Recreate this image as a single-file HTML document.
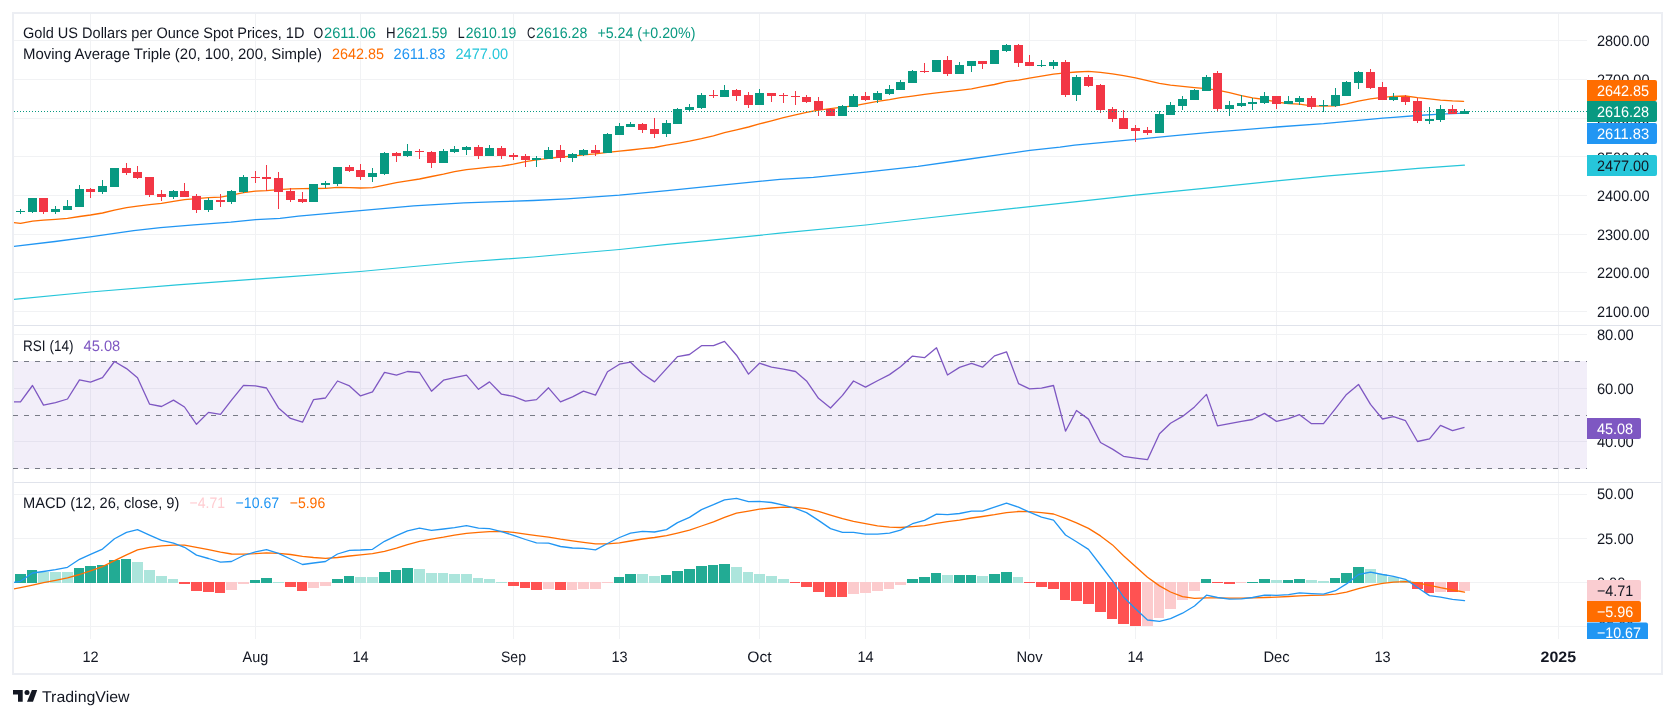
<!DOCTYPE html><html><head><meta charset="utf-8"><title>Gold chart</title><style>html,body{margin:0;padding:0;background:#fff;}body{width:1675px;height:718px;overflow:hidden;font-family:"Liberation Sans",sans-serif;}</style></head><body><svg width="1675" height="718" viewBox="0 0 1675 718" style="display:block;will-change:transform">
<defs><clipPath id="cpM"><rect x="14" y="14" width="1573" height="311"/></clipPath><clipPath id="cpR"><rect x="14" y="326" width="1573" height="156"/></clipPath><clipPath id="cpD"><rect x="14" y="483" width="1573" height="156"/></clipPath><clipPath id="cpAx"><rect x="1587" y="483" width="74" height="156"/></clipPath></defs>
<rect width="1675" height="718" fill="#fff"/>
<rect x="13" y="13" width="1649" height="661" fill="none" stroke="#ECEEF3" stroke-width="2"/>
<g fill="#F1F2F4" shape-rendering="crispEdges">
<rect x="14" y="40" width="1573" height="1"/>
<rect x="14" y="79" width="1573" height="1"/>
<rect x="14" y="118" width="1573" height="1"/>
<rect x="14" y="156" width="1573" height="1"/>
<rect x="14" y="195" width="1573" height="1"/>
<rect x="14" y="234" width="1573" height="1"/>
<rect x="14" y="272" width="1573" height="1"/>
<rect x="14" y="311" width="1573" height="1"/>
<rect x="14" y="334" width="1573" height="1"/>
<rect x="14" y="388" width="1573" height="1"/>
<rect x="14" y="441" width="1573" height="1"/>
<rect x="14" y="494" width="1573" height="1"/>
<rect x="14" y="538" width="1573" height="1"/>
<rect x="14" y="582" width="1573" height="1"/>
<rect x="14" y="626" width="1573" height="1"/>
<rect x="90" y="14" width="1" height="625"/>
<rect x="255" y="14" width="1" height="625"/>
<rect x="360" y="14" width="1" height="625"/>
<rect x="513" y="14" width="1" height="625"/>
<rect x="619" y="14" width="1" height="625"/>
<rect x="759" y="14" width="1" height="625"/>
<rect x="865" y="14" width="1" height="625"/>
<rect x="1029" y="14" width="1" height="625"/>
<rect x="1135" y="14" width="1" height="625"/>
<rect x="1276" y="14" width="1" height="625"/>
<rect x="1382" y="14" width="1" height="625"/>
<rect x="1558" y="14" width="1" height="625"/>
</g>
<g fill="#E0E3EB" shape-rendering="crispEdges"><rect x="14" y="325" width="1647" height="1"/><rect x="14" y="482" width="1647" height="1"/></g>
<g clip-path="url(#cpM)" fill="none" stroke-linejoin="round" stroke-linecap="round">
<path d="M13.3 299.5 L90.2 292.0 L177.2 284.8 L255.7 279.1 L280.0 277.3 L360.2 271.5 L413.7 266.5 L463.9 262.0 L500.0 259.4 L533.4 257.0 L566.9 254.0 L619.5 249.5 L667.2 244.4 L709.0 240.3 L759.1 235.3 L780.0 233.1 L865.7 225.0 L918.0 219.0 L1000.0 209.9 L1074.6 201.8 L1135.8 195.2 L1209.0 187.8 L1276.7 180.9 L1328.4 175.8 L1383.0 171.3 L1418.0 168.4 L1464.4 165.1" stroke="#26C6DA" stroke-width="1.2"/>
<path d="M13.3 246.5 L55.1 241.5 L90.2 236.8 L133.7 230.6 L160.5 227.6 L193.9 224.8 L230.7 222.2 L255.7 219.7 L280.0 218.3 L298.5 216.2 L360.2 210.6 L413.7 205.9 L463.9 202.9 L500.0 201.7 L533.4 200.5 L566.9 198.8 L619.5 195.1 L667.2 190.6 L709.0 186.4 L759.1 181.4 L780.0 179.4 L813.4 177.3 L865.7 172.2 L918.0 166.3 L962.7 160.0 L1000.0 154.6 L1029.9 150.4 L1060.0 147.2 L1074.6 145.2 L1135.8 139.3 L1180.0 135.2 L1210.0 132.4 L1241.5 129.9 L1276.7 127.0 L1323.5 123.7 L1358.4 120.3 L1383.0 118.2 L1393.6 117.4 L1417.5 115.5 L1440.5 114.1 L1464.4 113.2" stroke="#2196F3" stroke-width="1.3"/>
<path d="M13.8 222.7 L20.5 223.4 L32.6 221.2 L43.5 220.2 L55.5 219.4 L67.5 218.4 L79.6 216.5 L90.5 215.0 L102.5 213.0 L114.4 210.2 L126.6 207.7 L137.5 206.2 L149.5 204.6 L161.5 203.3 L173.5 201.4 L184.5 199.6 L196.4 198.7 L208.5 197.7 L220.5 197.1 L231.6 195.2 L243.5 192.7 L255.5 191.2 L266.5 190.6 L278.5 189.6 L290.5 188.9 L302.5 188.7 L313.4 188.5 L325.5 188.3 L337.5 187.4 L349.5 187.7 L360.4 188.0 L372.5 187.7 L384.5 185.2 L396.4 182.7 L407.5 180.8 L419.5 179.0 L431.6 176.5 L443.5 174.2 L454.5 171.7 L466.5 169.6 L478.5 168.3 L489.5 167.1 L501.5 166.2 L513.4 164.2 L525.5 161.7 L536.5 159.9 L548.5 158.3 L560.4 157.0 L572.5 156.2 L583.5 154.9 L595.4 153.9 L607.5 152.4 L619.5 151.2 L630.6 150.0 L642.5 148.7 L654.5 147.5 L666.5 145.2 L677.5 143.3 L689.5 141.2 L701.5 138.7 L713.4 135.8 L724.5 132.7 L736.5 129.9 L748.5 127.0 L759.4 123.9 L771.5 120.8 L783.5 117.6 L795.4 114.9 L806.5 112.4 L818.5 110.2 L830.6 108.7 L842.5 107.1 L853.5 105.8 L865.5 103.7 L877.5 101.4 L889.5 99.6 L900.5 97.7 L912.4 96.1 L924.5 94.3 L936.5 92.9 L947.5 91.7 L959.4 90.4 L971.5 88.9 L982.5 86.7 L994.4 84.5 L1006.5 81.6 L1018.5 80.1 L1029.4 78.2 L1041.5 76.1 L1053.5 74.1 L1065.5 72.8 L1076.4 72.0 L1088.5 71.3 L1100.5 72.3 L1112.4 73.9 L1123.5 75.7 L1135.5 77.9 L1147.5 80.7 L1159.4 83.3 L1170.5 85.1 L1182.5 86.4 L1194.4 87.6 L1206.5 88.6 L1217.5 90.1 L1229.4 92.6 L1241.5 95.7 L1252.5 97.9 L1264.5 99.5 L1276.4 102.0 L1288.5 103.6 L1299.5 104.1 L1311.4 105.8 L1323.5 106.2 L1335.5 105.8 L1346.5 103.9 L1358.4 101.1 L1370.5 98.9 L1382.5 97.4 L1393.6 96.3 L1405.4 96.0 L1417.5 97.6 L1429.5 98.8 L1440.5 100.1 L1452.5 100.9 L1463.6 101.3" stroke="#FF6D00" stroke-width="1.3"/>
</g>
<g shape-rendering="crispEdges">
<rect x="20" y="209" width="1" height="5" fill="#089981"/><rect x="16" y="211" width="9" height="1" fill="#089981"/>
<rect x="32" y="198" width="1" height="15" fill="#089981"/><rect x="28" y="198" width="9" height="14" fill="#089981"/>
<rect x="43" y="198" width="1" height="16" fill="#F23645"/><rect x="39" y="198" width="9" height="14" fill="#F23645"/>
<rect x="55" y="206" width="1" height="8" fill="#089981"/><rect x="51" y="209" width="9" height="3" fill="#089981"/>
<rect x="67" y="200" width="1" height="10" fill="#089981"/><rect x="63" y="206" width="9" height="4" fill="#089981"/>
<rect x="79" y="185" width="1" height="22" fill="#089981"/><rect x="75" y="189" width="9" height="18" fill="#089981"/>
<rect x="90" y="188" width="1" height="10" fill="#F23645"/><rect x="86" y="189" width="9" height="3" fill="#F23645"/>
<rect x="102" y="180" width="1" height="14" fill="#089981"/><rect x="98" y="186" width="9" height="6" fill="#089981"/>
<rect x="114" y="168" width="1" height="19" fill="#089981"/><rect x="110" y="168" width="9" height="19" fill="#089981"/>
<rect x="126" y="163" width="1" height="12" fill="#F23645"/><rect x="122" y="168" width="9" height="5" fill="#F23645"/>
<rect x="137" y="166" width="1" height="13" fill="#F23645"/><rect x="133" y="172" width="9" height="6" fill="#F23645"/>
<rect x="149" y="177" width="1" height="20" fill="#F23645"/><rect x="145" y="177" width="9" height="18" fill="#F23645"/>
<rect x="161" y="190" width="1" height="11" fill="#F23645"/><rect x="157" y="194" width="9" height="3" fill="#F23645"/>
<rect x="173" y="190" width="1" height="9" fill="#089981"/><rect x="169" y="191" width="9" height="6" fill="#089981"/>
<rect x="184" y="183" width="1" height="14" fill="#F23645"/><rect x="180" y="191" width="9" height="6" fill="#F23645"/>
<rect x="196" y="194" width="1" height="19" fill="#F23645"/><rect x="192" y="196" width="9" height="14" fill="#F23645"/>
<rect x="208" y="198" width="1" height="14" fill="#089981"/><rect x="204" y="200" width="9" height="10" fill="#089981"/>
<rect x="220" y="194" width="1" height="13" fill="#F23645"/><rect x="216" y="200" width="9" height="2" fill="#F23645"/>
<rect x="231" y="190" width="1" height="14" fill="#089981"/><rect x="227" y="191" width="9" height="11" fill="#089981"/>
<rect x="243" y="175" width="1" height="18" fill="#089981"/><rect x="239" y="177" width="9" height="15" fill="#089981"/>
<rect x="255" y="171" width="1" height="12" fill="#F23645"/><rect x="251" y="177" width="9" height="1" fill="#F23645"/>
<rect x="266" y="165" width="1" height="26" fill="#F23645"/><rect x="262" y="177" width="9" height="2" fill="#F23645"/>
<rect x="278" y="172" width="1" height="37" fill="#F23645"/><rect x="274" y="178" width="9" height="14" fill="#F23645"/>
<rect x="290" y="188" width="1" height="14" fill="#F23645"/><rect x="286" y="191" width="9" height="9" fill="#F23645"/>
<rect x="302" y="192" width="1" height="11" fill="#F23645"/><rect x="298" y="199" width="9" height="3" fill="#F23645"/>
<rect x="313" y="184" width="1" height="18" fill="#089981"/><rect x="309" y="184" width="9" height="18" fill="#089981"/>
<rect x="325" y="181" width="1" height="7" fill="#089981"/><rect x="321" y="183" width="9" height="2" fill="#089981"/>
<rect x="337" y="167" width="1" height="19" fill="#089981"/><rect x="333" y="167" width="9" height="17" fill="#089981"/>
<rect x="349" y="165" width="1" height="7" fill="#F23645"/><rect x="345" y="167" width="9" height="4" fill="#F23645"/>
<rect x="360" y="164" width="1" height="16" fill="#F23645"/><rect x="356" y="170" width="9" height="7" fill="#F23645"/>
<rect x="372" y="168" width="1" height="14" fill="#089981"/><rect x="368" y="173" width="9" height="4" fill="#089981"/>
<rect x="384" y="152" width="1" height="23" fill="#089981"/><rect x="380" y="153" width="9" height="21" fill="#089981"/>
<rect x="396" y="152" width="1" height="10" fill="#F23645"/><rect x="392" y="153" width="9" height="3" fill="#F23645"/>
<rect x="407" y="144" width="1" height="13" fill="#089981"/><rect x="403" y="151" width="9" height="5" fill="#089981"/>
<rect x="419" y="149" width="1" height="10" fill="#F23645"/><rect x="415" y="151" width="9" height="1" fill="#F23645"/>
<rect x="431" y="151" width="1" height="17" fill="#F23645"/><rect x="427" y="152" width="9" height="11" fill="#F23645"/>
<rect x="443" y="149" width="1" height="14" fill="#089981"/><rect x="439" y="151" width="9" height="12" fill="#089981"/>
<rect x="454" y="146" width="1" height="7" fill="#089981"/><rect x="450" y="149" width="9" height="3" fill="#089981"/>
<rect x="466" y="146" width="1" height="9" fill="#089981"/><rect x="462" y="147" width="9" height="3" fill="#089981"/>
<rect x="478" y="145" width="1" height="14" fill="#F23645"/><rect x="474" y="147" width="9" height="9" fill="#F23645"/>
<rect x="489" y="145" width="1" height="11" fill="#089981"/><rect x="485" y="148" width="9" height="8" fill="#089981"/>
<rect x="501" y="146" width="1" height="13" fill="#F23645"/><rect x="497" y="148" width="9" height="8" fill="#F23645"/>
<rect x="513" y="153" width="1" height="7" fill="#F23645"/><rect x="509" y="155" width="9" height="2" fill="#F23645"/>
<rect x="525" y="154" width="1" height="13" fill="#F23645"/><rect x="521" y="156" width="9" height="4" fill="#F23645"/>
<rect x="536" y="156" width="1" height="11" fill="#089981"/><rect x="532" y="158" width="9" height="2" fill="#089981"/>
<rect x="548" y="147" width="1" height="12" fill="#089981"/><rect x="544" y="150" width="9" height="9" fill="#089981"/>
<rect x="560" y="145" width="1" height="17" fill="#F23645"/><rect x="556" y="150" width="9" height="8" fill="#F23645"/>
<rect x="572" y="153" width="1" height="9" fill="#089981"/><rect x="568" y="154" width="9" height="4" fill="#089981"/>
<rect x="583" y="149" width="1" height="7" fill="#089981"/><rect x="579" y="150" width="9" height="5" fill="#089981"/>
<rect x="595" y="145" width="1" height="11" fill="#F23645"/><rect x="591" y="150" width="9" height="3" fill="#F23645"/>
<rect x="607" y="133" width="1" height="20" fill="#089981"/><rect x="603" y="134" width="9" height="19" fill="#089981"/>
<rect x="619" y="123" width="1" height="12" fill="#089981"/><rect x="615" y="126" width="9" height="9" fill="#089981"/>
<rect x="630" y="122" width="1" height="5" fill="#089981"/><rect x="626" y="124" width="9" height="3" fill="#089981"/>
<rect x="642" y="123" width="1" height="10" fill="#F23645"/><rect x="638" y="124" width="9" height="6" fill="#F23645"/>
<rect x="654" y="118" width="1" height="20" fill="#F23645"/><rect x="650" y="129" width="9" height="5" fill="#F23645"/>
<rect x="666" y="120" width="1" height="17" fill="#089981"/><rect x="662" y="123" width="9" height="11" fill="#089981"/>
<rect x="677" y="108" width="1" height="16" fill="#089981"/><rect x="673" y="109" width="9" height="15" fill="#089981"/>
<rect x="689" y="104" width="1" height="8" fill="#089981"/><rect x="685" y="107" width="9" height="3" fill="#089981"/>
<rect x="701" y="93" width="1" height="16" fill="#089981"/><rect x="697" y="95" width="9" height="13" fill="#089981"/>
<rect x="713" y="90" width="1" height="8" fill="#F23645"/><rect x="709" y="95" width="9" height="1" fill="#F23645"/>
<rect x="724" y="85" width="1" height="12" fill="#089981"/><rect x="720" y="90" width="9" height="7" fill="#089981"/>
<rect x="736" y="89" width="1" height="12" fill="#F23645"/><rect x="732" y="90" width="9" height="6" fill="#F23645"/>
<rect x="748" y="92" width="1" height="16" fill="#F23645"/><rect x="744" y="95" width="9" height="10" fill="#F23645"/>
<rect x="759" y="89" width="1" height="16" fill="#089981"/><rect x="755" y="93" width="9" height="12" fill="#089981"/>
<rect x="771" y="93" width="1" height="9" fill="#F23645"/><rect x="767" y="93" width="9" height="3" fill="#F23645"/>
<rect x="783" y="93" width="1" height="10" fill="#F23645"/><rect x="779" y="95" width="9" height="1" fill="#F23645"/>
<rect x="795" y="91" width="1" height="14" fill="#F23645"/><rect x="791" y="96" width="9" height="1" fill="#F23645"/>
<rect x="806" y="95" width="1" height="8" fill="#F23645"/><rect x="802" y="97" width="9" height="5" fill="#F23645"/>
<rect x="818" y="97" width="1" height="19" fill="#F23645"/><rect x="814" y="101" width="9" height="9" fill="#F23645"/>
<rect x="830" y="108" width="1" height="8" fill="#F23645"/><rect x="826" y="109" width="9" height="7" fill="#F23645"/>
<rect x="842" y="105" width="1" height="11" fill="#089981"/><rect x="838" y="106" width="9" height="10" fill="#089981"/>
<rect x="853" y="94" width="1" height="13" fill="#089981"/><rect x="849" y="96" width="9" height="11" fill="#089981"/>
<rect x="865" y="92" width="1" height="9" fill="#F23645"/><rect x="861" y="96" width="9" height="4" fill="#F23645"/>
<rect x="877" y="91" width="1" height="12" fill="#089981"/><rect x="873" y="93" width="9" height="7" fill="#089981"/>
<rect x="889" y="85" width="1" height="10" fill="#089981"/><rect x="885" y="89" width="9" height="5" fill="#089981"/>
<rect x="900" y="80" width="1" height="10" fill="#089981"/><rect x="896" y="82" width="9" height="8" fill="#089981"/>
<rect x="912" y="70" width="1" height="13" fill="#089981"/><rect x="908" y="71" width="9" height="12" fill="#089981"/>
<rect x="924" y="63" width="1" height="10" fill="#F23645"/><rect x="920" y="71" width="9" height="1" fill="#F23645"/>
<rect x="936" y="60" width="1" height="12" fill="#089981"/><rect x="932" y="60" width="9" height="12" fill="#089981"/>
<rect x="947" y="56" width="1" height="20" fill="#F23645"/><rect x="943" y="60" width="9" height="14" fill="#F23645"/>
<rect x="959" y="62" width="1" height="12" fill="#089981"/><rect x="955" y="65" width="9" height="9" fill="#089981"/>
<rect x="971" y="61" width="1" height="11" fill="#089981"/><rect x="967" y="61" width="9" height="5" fill="#089981"/>
<rect x="982" y="61" width="1" height="8" fill="#F23645"/><rect x="978" y="61" width="9" height="3" fill="#F23645"/>
<rect x="994" y="50" width="1" height="14" fill="#089981"/><rect x="990" y="50" width="9" height="14" fill="#089981"/>
<rect x="1006" y="44" width="1" height="8" fill="#089981"/><rect x="1002" y="45" width="9" height="6" fill="#089981"/>
<rect x="1018" y="44" width="1" height="23" fill="#F23645"/><rect x="1014" y="45" width="9" height="18" fill="#F23645"/>
<rect x="1029" y="55" width="1" height="11" fill="#F23645"/><rect x="1025" y="62" width="9" height="4" fill="#F23645"/>
<rect x="1041" y="60" width="1" height="7" fill="#089981"/><rect x="1037" y="65" width="9" height="1" fill="#089981"/>
<rect x="1053" y="60" width="1" height="9" fill="#089981"/><rect x="1049" y="62" width="9" height="4" fill="#089981"/>
<rect x="1065" y="60" width="1" height="37" fill="#F23645"/><rect x="1061" y="62" width="9" height="33" fill="#F23645"/>
<rect x="1076" y="75" width="1" height="26" fill="#089981"/><rect x="1072" y="77" width="9" height="18" fill="#089981"/>
<rect x="1088" y="75" width="1" height="12" fill="#F23645"/><rect x="1084" y="77" width="9" height="9" fill="#F23645"/>
<rect x="1194" y="89" width="1" height="11" fill="#089981"/><rect x="1190" y="90" width="9" height="10" fill="#089981"/>
<rect x="1206" y="75" width="1" height="16" fill="#089981"/><rect x="1202" y="77" width="9" height="14" fill="#089981"/>
<rect x="1100" y="84" width="1" height="29" fill="#F23645"/><rect x="1096" y="85" width="9" height="25" fill="#F23645"/>
<rect x="1112" y="107" width="1" height="15" fill="#F23645"/><rect x="1108" y="109" width="9" height="10" fill="#F23645"/>
<rect x="1123" y="110" width="1" height="19" fill="#F23645"/><rect x="1119" y="118" width="9" height="11" fill="#F23645"/>
<rect x="1135" y="125" width="1" height="17" fill="#F23645"/><rect x="1131" y="128" width="9" height="3" fill="#F23645"/>
<rect x="1147" y="127" width="1" height="8" fill="#F23645"/><rect x="1143" y="130" width="9" height="3" fill="#F23645"/>
<rect x="1159" y="111" width="1" height="22" fill="#089981"/><rect x="1155" y="114" width="9" height="19" fill="#089981"/>
<rect x="1170" y="102" width="1" height="13" fill="#089981"/><rect x="1166" y="105" width="9" height="10" fill="#089981"/>
<rect x="1182" y="96" width="1" height="14" fill="#089981"/><rect x="1178" y="99" width="9" height="7" fill="#089981"/>
<rect x="1217" y="71" width="1" height="41" fill="#F23645"/><rect x="1213" y="73" width="9" height="36" fill="#F23645"/>
<rect x="1229" y="101" width="1" height="15" fill="#089981"/><rect x="1225" y="105" width="9" height="4" fill="#089981"/>
<rect x="1241" y="95" width="1" height="12" fill="#089981"/><rect x="1237" y="103" width="9" height="3" fill="#089981"/>
<rect x="1252" y="98" width="1" height="12" fill="#089981"/><rect x="1248" y="102" width="9" height="2" fill="#089981"/>
<rect x="1264" y="92" width="1" height="12" fill="#089981"/><rect x="1260" y="96" width="9" height="7" fill="#089981"/>
<rect x="1276" y="96" width="1" height="13" fill="#F23645"/><rect x="1272" y="96" width="9" height="8" fill="#F23645"/>
<rect x="1288" y="96" width="1" height="8" fill="#089981"/><rect x="1284" y="101" width="9" height="3" fill="#089981"/>
<rect x="1299" y="96" width="1" height="9" fill="#089981"/><rect x="1295" y="98" width="9" height="4" fill="#089981"/>
<rect x="1311" y="96" width="1" height="13" fill="#F23645"/><rect x="1307" y="98" width="9" height="9" fill="#F23645"/>
<rect x="1323" y="100" width="1" height="12" fill="#089981"/><rect x="1319" y="105" width="9" height="1" fill="#089981"/>
<rect x="1335" y="88" width="1" height="19" fill="#089981"/><rect x="1331" y="95" width="9" height="11" fill="#089981"/>
<rect x="1346" y="81" width="1" height="15" fill="#089981"/><rect x="1342" y="82" width="9" height="14" fill="#089981"/>
<rect x="1358" y="71" width="1" height="18" fill="#089981"/><rect x="1354" y="72" width="9" height="11" fill="#089981"/>
<rect x="1370" y="69" width="1" height="20" fill="#F23645"/><rect x="1366" y="72" width="9" height="16" fill="#F23645"/>
<rect x="1382" y="82" width="1" height="18" fill="#F23645"/><rect x="1378" y="87" width="9" height="13" fill="#F23645"/>
<rect x="1393" y="93" width="1" height="8" fill="#089981"/><rect x="1389" y="97" width="9" height="3" fill="#089981"/>
<rect x="1405" y="95" width="1" height="10" fill="#F23645"/><rect x="1401" y="97" width="9" height="5" fill="#F23645"/>
<rect x="1417" y="98" width="1" height="25" fill="#F23645"/><rect x="1413" y="101" width="9" height="20" fill="#F23645"/>
<rect x="1429" y="107" width="1" height="17" fill="#089981"/><rect x="1425" y="119" width="9" height="2" fill="#089981"/>
<rect x="1440" y="105" width="1" height="17" fill="#089981"/><rect x="1436" y="109" width="9" height="11" fill="#089981"/>
<rect x="1452" y="105" width="1" height="9" fill="#F23645"/><rect x="1448" y="109" width="9" height="5" fill="#F23645"/>
<rect x="1464" y="109" width="1" height="5" fill="#089981"/><rect x="1460" y="111" width="9" height="3" fill="#089981"/>
</g>
<g fill="#089981" shape-rendering="crispEdges">
<rect x="14" y="111" width="1" height="1"/>
<rect x="17" y="111" width="1" height="1"/>
<rect x="20" y="111" width="1" height="1"/>
<rect x="23" y="111" width="1" height="1"/>
<rect x="26" y="111" width="1" height="1"/>
<rect x="29" y="111" width="1" height="1"/>
<rect x="32" y="111" width="1" height="1"/>
<rect x="35" y="111" width="1" height="1"/>
<rect x="38" y="111" width="1" height="1"/>
<rect x="41" y="111" width="1" height="1"/>
<rect x="44" y="111" width="1" height="1"/>
<rect x="47" y="111" width="1" height="1"/>
<rect x="50" y="111" width="1" height="1"/>
<rect x="53" y="111" width="1" height="1"/>
<rect x="56" y="111" width="1" height="1"/>
<rect x="59" y="111" width="1" height="1"/>
<rect x="62" y="111" width="1" height="1"/>
<rect x="65" y="111" width="1" height="1"/>
<rect x="68" y="111" width="1" height="1"/>
<rect x="71" y="111" width="1" height="1"/>
<rect x="74" y="111" width="1" height="1"/>
<rect x="77" y="111" width="1" height="1"/>
<rect x="80" y="111" width="1" height="1"/>
<rect x="83" y="111" width="1" height="1"/>
<rect x="86" y="111" width="1" height="1"/>
<rect x="89" y="111" width="1" height="1"/>
<rect x="92" y="111" width="1" height="1"/>
<rect x="95" y="111" width="1" height="1"/>
<rect x="98" y="111" width="1" height="1"/>
<rect x="101" y="111" width="1" height="1"/>
<rect x="104" y="111" width="1" height="1"/>
<rect x="107" y="111" width="1" height="1"/>
<rect x="110" y="111" width="1" height="1"/>
<rect x="113" y="111" width="1" height="1"/>
<rect x="116" y="111" width="1" height="1"/>
<rect x="119" y="111" width="1" height="1"/>
<rect x="122" y="111" width="1" height="1"/>
<rect x="125" y="111" width="1" height="1"/>
<rect x="128" y="111" width="1" height="1"/>
<rect x="131" y="111" width="1" height="1"/>
<rect x="134" y="111" width="1" height="1"/>
<rect x="137" y="111" width="1" height="1"/>
<rect x="140" y="111" width="1" height="1"/>
<rect x="143" y="111" width="1" height="1"/>
<rect x="146" y="111" width="1" height="1"/>
<rect x="149" y="111" width="1" height="1"/>
<rect x="152" y="111" width="1" height="1"/>
<rect x="155" y="111" width="1" height="1"/>
<rect x="158" y="111" width="1" height="1"/>
<rect x="161" y="111" width="1" height="1"/>
<rect x="164" y="111" width="1" height="1"/>
<rect x="167" y="111" width="1" height="1"/>
<rect x="170" y="111" width="1" height="1"/>
<rect x="173" y="111" width="1" height="1"/>
<rect x="176" y="111" width="1" height="1"/>
<rect x="179" y="111" width="1" height="1"/>
<rect x="182" y="111" width="1" height="1"/>
<rect x="185" y="111" width="1" height="1"/>
<rect x="188" y="111" width="1" height="1"/>
<rect x="191" y="111" width="1" height="1"/>
<rect x="194" y="111" width="1" height="1"/>
<rect x="197" y="111" width="1" height="1"/>
<rect x="200" y="111" width="1" height="1"/>
<rect x="203" y="111" width="1" height="1"/>
<rect x="206" y="111" width="1" height="1"/>
<rect x="209" y="111" width="1" height="1"/>
<rect x="212" y="111" width="1" height="1"/>
<rect x="215" y="111" width="1" height="1"/>
<rect x="218" y="111" width="1" height="1"/>
<rect x="221" y="111" width="1" height="1"/>
<rect x="224" y="111" width="1" height="1"/>
<rect x="227" y="111" width="1" height="1"/>
<rect x="230" y="111" width="1" height="1"/>
<rect x="233" y="111" width="1" height="1"/>
<rect x="236" y="111" width="1" height="1"/>
<rect x="239" y="111" width="1" height="1"/>
<rect x="242" y="111" width="1" height="1"/>
<rect x="245" y="111" width="1" height="1"/>
<rect x="248" y="111" width="1" height="1"/>
<rect x="251" y="111" width="1" height="1"/>
<rect x="254" y="111" width="1" height="1"/>
<rect x="257" y="111" width="1" height="1"/>
<rect x="260" y="111" width="1" height="1"/>
<rect x="263" y="111" width="1" height="1"/>
<rect x="266" y="111" width="1" height="1"/>
<rect x="269" y="111" width="1" height="1"/>
<rect x="272" y="111" width="1" height="1"/>
<rect x="275" y="111" width="1" height="1"/>
<rect x="278" y="111" width="1" height="1"/>
<rect x="281" y="111" width="1" height="1"/>
<rect x="284" y="111" width="1" height="1"/>
<rect x="287" y="111" width="1" height="1"/>
<rect x="290" y="111" width="1" height="1"/>
<rect x="293" y="111" width="1" height="1"/>
<rect x="296" y="111" width="1" height="1"/>
<rect x="299" y="111" width="1" height="1"/>
<rect x="302" y="111" width="1" height="1"/>
<rect x="305" y="111" width="1" height="1"/>
<rect x="308" y="111" width="1" height="1"/>
<rect x="311" y="111" width="1" height="1"/>
<rect x="314" y="111" width="1" height="1"/>
<rect x="317" y="111" width="1" height="1"/>
<rect x="320" y="111" width="1" height="1"/>
<rect x="323" y="111" width="1" height="1"/>
<rect x="326" y="111" width="1" height="1"/>
<rect x="329" y="111" width="1" height="1"/>
<rect x="332" y="111" width="1" height="1"/>
<rect x="335" y="111" width="1" height="1"/>
<rect x="338" y="111" width="1" height="1"/>
<rect x="341" y="111" width="1" height="1"/>
<rect x="344" y="111" width="1" height="1"/>
<rect x="347" y="111" width="1" height="1"/>
<rect x="350" y="111" width="1" height="1"/>
<rect x="353" y="111" width="1" height="1"/>
<rect x="356" y="111" width="1" height="1"/>
<rect x="359" y="111" width="1" height="1"/>
<rect x="362" y="111" width="1" height="1"/>
<rect x="365" y="111" width="1" height="1"/>
<rect x="368" y="111" width="1" height="1"/>
<rect x="371" y="111" width="1" height="1"/>
<rect x="374" y="111" width="1" height="1"/>
<rect x="377" y="111" width="1" height="1"/>
<rect x="380" y="111" width="1" height="1"/>
<rect x="383" y="111" width="1" height="1"/>
<rect x="386" y="111" width="1" height="1"/>
<rect x="389" y="111" width="1" height="1"/>
<rect x="392" y="111" width="1" height="1"/>
<rect x="395" y="111" width="1" height="1"/>
<rect x="398" y="111" width="1" height="1"/>
<rect x="401" y="111" width="1" height="1"/>
<rect x="404" y="111" width="1" height="1"/>
<rect x="407" y="111" width="1" height="1"/>
<rect x="410" y="111" width="1" height="1"/>
<rect x="413" y="111" width="1" height="1"/>
<rect x="416" y="111" width="1" height="1"/>
<rect x="419" y="111" width="1" height="1"/>
<rect x="422" y="111" width="1" height="1"/>
<rect x="425" y="111" width="1" height="1"/>
<rect x="428" y="111" width="1" height="1"/>
<rect x="431" y="111" width="1" height="1"/>
<rect x="434" y="111" width="1" height="1"/>
<rect x="437" y="111" width="1" height="1"/>
<rect x="440" y="111" width="1" height="1"/>
<rect x="443" y="111" width="1" height="1"/>
<rect x="446" y="111" width="1" height="1"/>
<rect x="449" y="111" width="1" height="1"/>
<rect x="452" y="111" width="1" height="1"/>
<rect x="455" y="111" width="1" height="1"/>
<rect x="458" y="111" width="1" height="1"/>
<rect x="461" y="111" width="1" height="1"/>
<rect x="464" y="111" width="1" height="1"/>
<rect x="467" y="111" width="1" height="1"/>
<rect x="470" y="111" width="1" height="1"/>
<rect x="473" y="111" width="1" height="1"/>
<rect x="476" y="111" width="1" height="1"/>
<rect x="479" y="111" width="1" height="1"/>
<rect x="482" y="111" width="1" height="1"/>
<rect x="485" y="111" width="1" height="1"/>
<rect x="488" y="111" width="1" height="1"/>
<rect x="491" y="111" width="1" height="1"/>
<rect x="494" y="111" width="1" height="1"/>
<rect x="497" y="111" width="1" height="1"/>
<rect x="500" y="111" width="1" height="1"/>
<rect x="503" y="111" width="1" height="1"/>
<rect x="506" y="111" width="1" height="1"/>
<rect x="509" y="111" width="1" height="1"/>
<rect x="512" y="111" width="1" height="1"/>
<rect x="515" y="111" width="1" height="1"/>
<rect x="518" y="111" width="1" height="1"/>
<rect x="521" y="111" width="1" height="1"/>
<rect x="524" y="111" width="1" height="1"/>
<rect x="527" y="111" width="1" height="1"/>
<rect x="530" y="111" width="1" height="1"/>
<rect x="533" y="111" width="1" height="1"/>
<rect x="536" y="111" width="1" height="1"/>
<rect x="539" y="111" width="1" height="1"/>
<rect x="542" y="111" width="1" height="1"/>
<rect x="545" y="111" width="1" height="1"/>
<rect x="548" y="111" width="1" height="1"/>
<rect x="551" y="111" width="1" height="1"/>
<rect x="554" y="111" width="1" height="1"/>
<rect x="557" y="111" width="1" height="1"/>
<rect x="560" y="111" width="1" height="1"/>
<rect x="563" y="111" width="1" height="1"/>
<rect x="566" y="111" width="1" height="1"/>
<rect x="569" y="111" width="1" height="1"/>
<rect x="572" y="111" width="1" height="1"/>
<rect x="575" y="111" width="1" height="1"/>
<rect x="578" y="111" width="1" height="1"/>
<rect x="581" y="111" width="1" height="1"/>
<rect x="584" y="111" width="1" height="1"/>
<rect x="587" y="111" width="1" height="1"/>
<rect x="590" y="111" width="1" height="1"/>
<rect x="593" y="111" width="1" height="1"/>
<rect x="596" y="111" width="1" height="1"/>
<rect x="599" y="111" width="1" height="1"/>
<rect x="602" y="111" width="1" height="1"/>
<rect x="605" y="111" width="1" height="1"/>
<rect x="608" y="111" width="1" height="1"/>
<rect x="611" y="111" width="1" height="1"/>
<rect x="614" y="111" width="1" height="1"/>
<rect x="617" y="111" width="1" height="1"/>
<rect x="620" y="111" width="1" height="1"/>
<rect x="623" y="111" width="1" height="1"/>
<rect x="626" y="111" width="1" height="1"/>
<rect x="629" y="111" width="1" height="1"/>
<rect x="632" y="111" width="1" height="1"/>
<rect x="635" y="111" width="1" height="1"/>
<rect x="638" y="111" width="1" height="1"/>
<rect x="641" y="111" width="1" height="1"/>
<rect x="644" y="111" width="1" height="1"/>
<rect x="647" y="111" width="1" height="1"/>
<rect x="650" y="111" width="1" height="1"/>
<rect x="653" y="111" width="1" height="1"/>
<rect x="656" y="111" width="1" height="1"/>
<rect x="659" y="111" width="1" height="1"/>
<rect x="662" y="111" width="1" height="1"/>
<rect x="665" y="111" width="1" height="1"/>
<rect x="668" y="111" width="1" height="1"/>
<rect x="671" y="111" width="1" height="1"/>
<rect x="674" y="111" width="1" height="1"/>
<rect x="677" y="111" width="1" height="1"/>
<rect x="680" y="111" width="1" height="1"/>
<rect x="683" y="111" width="1" height="1"/>
<rect x="686" y="111" width="1" height="1"/>
<rect x="689" y="111" width="1" height="1"/>
<rect x="692" y="111" width="1" height="1"/>
<rect x="695" y="111" width="1" height="1"/>
<rect x="698" y="111" width="1" height="1"/>
<rect x="701" y="111" width="1" height="1"/>
<rect x="704" y="111" width="1" height="1"/>
<rect x="707" y="111" width="1" height="1"/>
<rect x="710" y="111" width="1" height="1"/>
<rect x="713" y="111" width="1" height="1"/>
<rect x="716" y="111" width="1" height="1"/>
<rect x="719" y="111" width="1" height="1"/>
<rect x="722" y="111" width="1" height="1"/>
<rect x="725" y="111" width="1" height="1"/>
<rect x="728" y="111" width="1" height="1"/>
<rect x="731" y="111" width="1" height="1"/>
<rect x="734" y="111" width="1" height="1"/>
<rect x="737" y="111" width="1" height="1"/>
<rect x="740" y="111" width="1" height="1"/>
<rect x="743" y="111" width="1" height="1"/>
<rect x="746" y="111" width="1" height="1"/>
<rect x="749" y="111" width="1" height="1"/>
<rect x="752" y="111" width="1" height="1"/>
<rect x="755" y="111" width="1" height="1"/>
<rect x="758" y="111" width="1" height="1"/>
<rect x="761" y="111" width="1" height="1"/>
<rect x="764" y="111" width="1" height="1"/>
<rect x="767" y="111" width="1" height="1"/>
<rect x="770" y="111" width="1" height="1"/>
<rect x="773" y="111" width="1" height="1"/>
<rect x="776" y="111" width="1" height="1"/>
<rect x="779" y="111" width="1" height="1"/>
<rect x="782" y="111" width="1" height="1"/>
<rect x="785" y="111" width="1" height="1"/>
<rect x="788" y="111" width="1" height="1"/>
<rect x="791" y="111" width="1" height="1"/>
<rect x="794" y="111" width="1" height="1"/>
<rect x="797" y="111" width="1" height="1"/>
<rect x="800" y="111" width="1" height="1"/>
<rect x="803" y="111" width="1" height="1"/>
<rect x="806" y="111" width="1" height="1"/>
<rect x="809" y="111" width="1" height="1"/>
<rect x="812" y="111" width="1" height="1"/>
<rect x="815" y="111" width="1" height="1"/>
<rect x="818" y="111" width="1" height="1"/>
<rect x="821" y="111" width="1" height="1"/>
<rect x="824" y="111" width="1" height="1"/>
<rect x="827" y="111" width="1" height="1"/>
<rect x="830" y="111" width="1" height="1"/>
<rect x="833" y="111" width="1" height="1"/>
<rect x="836" y="111" width="1" height="1"/>
<rect x="839" y="111" width="1" height="1"/>
<rect x="842" y="111" width="1" height="1"/>
<rect x="845" y="111" width="1" height="1"/>
<rect x="848" y="111" width="1" height="1"/>
<rect x="851" y="111" width="1" height="1"/>
<rect x="854" y="111" width="1" height="1"/>
<rect x="857" y="111" width="1" height="1"/>
<rect x="860" y="111" width="1" height="1"/>
<rect x="863" y="111" width="1" height="1"/>
<rect x="866" y="111" width="1" height="1"/>
<rect x="869" y="111" width="1" height="1"/>
<rect x="872" y="111" width="1" height="1"/>
<rect x="875" y="111" width="1" height="1"/>
<rect x="878" y="111" width="1" height="1"/>
<rect x="881" y="111" width="1" height="1"/>
<rect x="884" y="111" width="1" height="1"/>
<rect x="887" y="111" width="1" height="1"/>
<rect x="890" y="111" width="1" height="1"/>
<rect x="893" y="111" width="1" height="1"/>
<rect x="896" y="111" width="1" height="1"/>
<rect x="899" y="111" width="1" height="1"/>
<rect x="902" y="111" width="1" height="1"/>
<rect x="905" y="111" width="1" height="1"/>
<rect x="908" y="111" width="1" height="1"/>
<rect x="911" y="111" width="1" height="1"/>
<rect x="914" y="111" width="1" height="1"/>
<rect x="917" y="111" width="1" height="1"/>
<rect x="920" y="111" width="1" height="1"/>
<rect x="923" y="111" width="1" height="1"/>
<rect x="926" y="111" width="1" height="1"/>
<rect x="929" y="111" width="1" height="1"/>
<rect x="932" y="111" width="1" height="1"/>
<rect x="935" y="111" width="1" height="1"/>
<rect x="938" y="111" width="1" height="1"/>
<rect x="941" y="111" width="1" height="1"/>
<rect x="944" y="111" width="1" height="1"/>
<rect x="947" y="111" width="1" height="1"/>
<rect x="950" y="111" width="1" height="1"/>
<rect x="953" y="111" width="1" height="1"/>
<rect x="956" y="111" width="1" height="1"/>
<rect x="959" y="111" width="1" height="1"/>
<rect x="962" y="111" width="1" height="1"/>
<rect x="965" y="111" width="1" height="1"/>
<rect x="968" y="111" width="1" height="1"/>
<rect x="971" y="111" width="1" height="1"/>
<rect x="974" y="111" width="1" height="1"/>
<rect x="977" y="111" width="1" height="1"/>
<rect x="980" y="111" width="1" height="1"/>
<rect x="983" y="111" width="1" height="1"/>
<rect x="986" y="111" width="1" height="1"/>
<rect x="989" y="111" width="1" height="1"/>
<rect x="992" y="111" width="1" height="1"/>
<rect x="995" y="111" width="1" height="1"/>
<rect x="998" y="111" width="1" height="1"/>
<rect x="1001" y="111" width="1" height="1"/>
<rect x="1004" y="111" width="1" height="1"/>
<rect x="1007" y="111" width="1" height="1"/>
<rect x="1010" y="111" width="1" height="1"/>
<rect x="1013" y="111" width="1" height="1"/>
<rect x="1016" y="111" width="1" height="1"/>
<rect x="1019" y="111" width="1" height="1"/>
<rect x="1022" y="111" width="1" height="1"/>
<rect x="1025" y="111" width="1" height="1"/>
<rect x="1028" y="111" width="1" height="1"/>
<rect x="1031" y="111" width="1" height="1"/>
<rect x="1034" y="111" width="1" height="1"/>
<rect x="1037" y="111" width="1" height="1"/>
<rect x="1040" y="111" width="1" height="1"/>
<rect x="1043" y="111" width="1" height="1"/>
<rect x="1046" y="111" width="1" height="1"/>
<rect x="1049" y="111" width="1" height="1"/>
<rect x="1052" y="111" width="1" height="1"/>
<rect x="1055" y="111" width="1" height="1"/>
<rect x="1058" y="111" width="1" height="1"/>
<rect x="1061" y="111" width="1" height="1"/>
<rect x="1064" y="111" width="1" height="1"/>
<rect x="1067" y="111" width="1" height="1"/>
<rect x="1070" y="111" width="1" height="1"/>
<rect x="1073" y="111" width="1" height="1"/>
<rect x="1076" y="111" width="1" height="1"/>
<rect x="1079" y="111" width="1" height="1"/>
<rect x="1082" y="111" width="1" height="1"/>
<rect x="1085" y="111" width="1" height="1"/>
<rect x="1088" y="111" width="1" height="1"/>
<rect x="1091" y="111" width="1" height="1"/>
<rect x="1094" y="111" width="1" height="1"/>
<rect x="1097" y="111" width="1" height="1"/>
<rect x="1100" y="111" width="1" height="1"/>
<rect x="1103" y="111" width="1" height="1"/>
<rect x="1106" y="111" width="1" height="1"/>
<rect x="1109" y="111" width="1" height="1"/>
<rect x="1112" y="111" width="1" height="1"/>
<rect x="1115" y="111" width="1" height="1"/>
<rect x="1118" y="111" width="1" height="1"/>
<rect x="1121" y="111" width="1" height="1"/>
<rect x="1124" y="111" width="1" height="1"/>
<rect x="1127" y="111" width="1" height="1"/>
<rect x="1130" y="111" width="1" height="1"/>
<rect x="1133" y="111" width="1" height="1"/>
<rect x="1136" y="111" width="1" height="1"/>
<rect x="1139" y="111" width="1" height="1"/>
<rect x="1142" y="111" width="1" height="1"/>
<rect x="1145" y="111" width="1" height="1"/>
<rect x="1148" y="111" width="1" height="1"/>
<rect x="1151" y="111" width="1" height="1"/>
<rect x="1154" y="111" width="1" height="1"/>
<rect x="1157" y="111" width="1" height="1"/>
<rect x="1160" y="111" width="1" height="1"/>
<rect x="1163" y="111" width="1" height="1"/>
<rect x="1166" y="111" width="1" height="1"/>
<rect x="1169" y="111" width="1" height="1"/>
<rect x="1172" y="111" width="1" height="1"/>
<rect x="1175" y="111" width="1" height="1"/>
<rect x="1178" y="111" width="1" height="1"/>
<rect x="1181" y="111" width="1" height="1"/>
<rect x="1184" y="111" width="1" height="1"/>
<rect x="1187" y="111" width="1" height="1"/>
<rect x="1190" y="111" width="1" height="1"/>
<rect x="1193" y="111" width="1" height="1"/>
<rect x="1196" y="111" width="1" height="1"/>
<rect x="1199" y="111" width="1" height="1"/>
<rect x="1202" y="111" width="1" height="1"/>
<rect x="1205" y="111" width="1" height="1"/>
<rect x="1208" y="111" width="1" height="1"/>
<rect x="1211" y="111" width="1" height="1"/>
<rect x="1214" y="111" width="1" height="1"/>
<rect x="1217" y="111" width="1" height="1"/>
<rect x="1220" y="111" width="1" height="1"/>
<rect x="1223" y="111" width="1" height="1"/>
<rect x="1226" y="111" width="1" height="1"/>
<rect x="1229" y="111" width="1" height="1"/>
<rect x="1232" y="111" width="1" height="1"/>
<rect x="1235" y="111" width="1" height="1"/>
<rect x="1238" y="111" width="1" height="1"/>
<rect x="1241" y="111" width="1" height="1"/>
<rect x="1244" y="111" width="1" height="1"/>
<rect x="1247" y="111" width="1" height="1"/>
<rect x="1250" y="111" width="1" height="1"/>
<rect x="1253" y="111" width="1" height="1"/>
<rect x="1256" y="111" width="1" height="1"/>
<rect x="1259" y="111" width="1" height="1"/>
<rect x="1262" y="111" width="1" height="1"/>
<rect x="1265" y="111" width="1" height="1"/>
<rect x="1268" y="111" width="1" height="1"/>
<rect x="1271" y="111" width="1" height="1"/>
<rect x="1274" y="111" width="1" height="1"/>
<rect x="1277" y="111" width="1" height="1"/>
<rect x="1280" y="111" width="1" height="1"/>
<rect x="1283" y="111" width="1" height="1"/>
<rect x="1286" y="111" width="1" height="1"/>
<rect x="1289" y="111" width="1" height="1"/>
<rect x="1292" y="111" width="1" height="1"/>
<rect x="1295" y="111" width="1" height="1"/>
<rect x="1298" y="111" width="1" height="1"/>
<rect x="1301" y="111" width="1" height="1"/>
<rect x="1304" y="111" width="1" height="1"/>
<rect x="1307" y="111" width="1" height="1"/>
<rect x="1310" y="111" width="1" height="1"/>
<rect x="1313" y="111" width="1" height="1"/>
<rect x="1316" y="111" width="1" height="1"/>
<rect x="1319" y="111" width="1" height="1"/>
<rect x="1322" y="111" width="1" height="1"/>
<rect x="1325" y="111" width="1" height="1"/>
<rect x="1328" y="111" width="1" height="1"/>
<rect x="1331" y="111" width="1" height="1"/>
<rect x="1334" y="111" width="1" height="1"/>
<rect x="1337" y="111" width="1" height="1"/>
<rect x="1340" y="111" width="1" height="1"/>
<rect x="1343" y="111" width="1" height="1"/>
<rect x="1346" y="111" width="1" height="1"/>
<rect x="1349" y="111" width="1" height="1"/>
<rect x="1352" y="111" width="1" height="1"/>
<rect x="1355" y="111" width="1" height="1"/>
<rect x="1358" y="111" width="1" height="1"/>
<rect x="1361" y="111" width="1" height="1"/>
<rect x="1364" y="111" width="1" height="1"/>
<rect x="1367" y="111" width="1" height="1"/>
<rect x="1370" y="111" width="1" height="1"/>
<rect x="1373" y="111" width="1" height="1"/>
<rect x="1376" y="111" width="1" height="1"/>
<rect x="1379" y="111" width="1" height="1"/>
<rect x="1382" y="111" width="1" height="1"/>
<rect x="1385" y="111" width="1" height="1"/>
<rect x="1388" y="111" width="1" height="1"/>
<rect x="1391" y="111" width="1" height="1"/>
<rect x="1394" y="111" width="1" height="1"/>
<rect x="1397" y="111" width="1" height="1"/>
<rect x="1400" y="111" width="1" height="1"/>
<rect x="1403" y="111" width="1" height="1"/>
<rect x="1406" y="111" width="1" height="1"/>
<rect x="1409" y="111" width="1" height="1"/>
<rect x="1412" y="111" width="1" height="1"/>
<rect x="1415" y="111" width="1" height="1"/>
<rect x="1418" y="111" width="1" height="1"/>
<rect x="1421" y="111" width="1" height="1"/>
<rect x="1424" y="111" width="1" height="1"/>
<rect x="1427" y="111" width="1" height="1"/>
<rect x="1430" y="111" width="1" height="1"/>
<rect x="1433" y="111" width="1" height="1"/>
<rect x="1436" y="111" width="1" height="1"/>
<rect x="1439" y="111" width="1" height="1"/>
<rect x="1442" y="111" width="1" height="1"/>
<rect x="1445" y="111" width="1" height="1"/>
<rect x="1448" y="111" width="1" height="1"/>
<rect x="1451" y="111" width="1" height="1"/>
<rect x="1454" y="111" width="1" height="1"/>
<rect x="1457" y="111" width="1" height="1"/>
<rect x="1460" y="111" width="1" height="1"/>
<rect x="1463" y="111" width="1" height="1"/>
<rect x="1466" y="111" width="1" height="1"/>
<rect x="1469" y="111" width="1" height="1"/>
<rect x="1472" y="111" width="1" height="1"/>
<rect x="1475" y="111" width="1" height="1"/>
<rect x="1478" y="111" width="1" height="1"/>
<rect x="1481" y="111" width="1" height="1"/>
<rect x="1484" y="111" width="1" height="1"/>
<rect x="1487" y="111" width="1" height="1"/>
<rect x="1490" y="111" width="1" height="1"/>
<rect x="1493" y="111" width="1" height="1"/>
<rect x="1496" y="111" width="1" height="1"/>
<rect x="1499" y="111" width="1" height="1"/>
<rect x="1502" y="111" width="1" height="1"/>
<rect x="1505" y="111" width="1" height="1"/>
<rect x="1508" y="111" width="1" height="1"/>
<rect x="1511" y="111" width="1" height="1"/>
<rect x="1514" y="111" width="1" height="1"/>
<rect x="1517" y="111" width="1" height="1"/>
<rect x="1520" y="111" width="1" height="1"/>
<rect x="1523" y="111" width="1" height="1"/>
<rect x="1526" y="111" width="1" height="1"/>
<rect x="1529" y="111" width="1" height="1"/>
<rect x="1532" y="111" width="1" height="1"/>
<rect x="1535" y="111" width="1" height="1"/>
<rect x="1538" y="111" width="1" height="1"/>
<rect x="1541" y="111" width="1" height="1"/>
<rect x="1544" y="111" width="1" height="1"/>
<rect x="1547" y="111" width="1" height="1"/>
<rect x="1550" y="111" width="1" height="1"/>
<rect x="1553" y="111" width="1" height="1"/>
<rect x="1556" y="111" width="1" height="1"/>
<rect x="1559" y="111" width="1" height="1"/>
<rect x="1562" y="111" width="1" height="1"/>
<rect x="1565" y="111" width="1" height="1"/>
<rect x="1568" y="111" width="1" height="1"/>
<rect x="1571" y="111" width="1" height="1"/>
<rect x="1574" y="111" width="1" height="1"/>
<rect x="1577" y="111" width="1" height="1"/>
<rect x="1580" y="111" width="1" height="1"/>
<rect x="1583" y="111" width="1" height="1"/>
<rect x="1586" y="111" width="1" height="1"/>
</g>
<rect x="14" y="361" width="1573" height="108" fill="#7E57C2" fill-opacity="0.1"/>
<g stroke="#787B86" stroke-width="1" stroke-dasharray="5 6" shape-rendering="crispEdges">
<line x1="13" y1="361.5" x2="1587" y2="361.5"/>
<line x1="13" y1="415.5" x2="1587" y2="415.5"/>
<line x1="13" y1="468.5" x2="1587" y2="468.5"/>
</g>
<path clip-path="url(#cpR)" d="M8.5 402.0 L20.5 401.8 L32.5 385.5 L43.5 405.1 L55.5 402.7 L67.5 399.0 L79.5 379.8 L90.5 382.2 L102.5 377.6 L114.5 361.5 L126.5 368.6 L137.5 377.7 L149.5 404.1 L161.5 406.5 L173.5 400.1 L184.5 407.0 L196.5 424.3 L208.5 412.4 L220.5 414.4 L231.5 400.1 L243.5 385.4 L255.5 385.9 L266.5 388.0 L278.5 407.9 L290.5 418.4 L302.5 422.2 L313.5 399.7 L325.5 398.0 L337.5 381.0 L349.5 385.9 L360.5 395.9 L372.5 391.9 L384.5 372.4 L396.5 375.1 L407.5 371.5 L419.5 372.5 L431.5 391.2 L443.5 380.2 L454.5 377.7 L466.5 375.1 L478.5 389.3 L489.5 381.9 L501.5 394.2 L513.5 396.4 L525.5 401.1 L536.5 399.6 L548.5 387.8 L560.5 401.8 L572.5 396.8 L583.5 391.2 L595.5 395.1 L607.5 371.7 L619.5 364.2 L630.5 362.2 L642.5 373.8 L654.5 381.9 L666.5 368.6 L677.5 356.6 L689.5 354.5 L701.5 345.7 L713.5 345.7 L724.5 341.4 L736.5 355.2 L748.5 374.1 L759.5 363.2 L771.5 367.2 L783.5 369.1 L795.5 371.5 L806.5 380.9 L818.5 398.3 L830.5 408.0 L842.5 395.4 L853.5 381.0 L865.5 387.1 L877.5 380.7 L889.5 374.6 L900.5 366.8 L912.5 356.1 L924.5 357.7 L936.5 347.8 L947.5 375.0 L959.5 367.4 L971.5 363.4 L982.5 367.2 L994.5 355.9 L1006.5 351.8 L1018.5 383.6 L1029.5 388.8 L1041.5 388.1 L1053.5 385.5 L1065.5 431.2 L1076.5 410.5 L1088.5 419.1 L1100.5 442.5 L1112.5 449.1 L1123.5 456.3 L1135.5 458.1 L1147.5 459.7 L1159.5 433.7 L1170.5 423.3 L1182.5 416.4 L1194.5 406.9 L1206.5 394.4 L1217.5 425.9 L1229.5 423.7 L1241.5 421.4 L1252.5 419.5 L1264.5 413.4 L1276.5 421.4 L1288.5 418.6 L1299.5 414.7 L1311.5 423.7 L1323.5 423.7 L1335.5 408.6 L1346.5 394.4 L1358.5 384.4 L1370.5 404.3 L1382.5 419.0 L1393.5 416.6 L1405.5 420.7 L1417.5 441.5 L1429.5 438.9 L1440.5 425.4 L1452.5 430.6 L1464.5 427.3" fill="none" stroke="#7E57C2" stroke-width="1.3" stroke-linejoin="round"/>
<g clip-path="url(#cpD)" shape-rendering="crispEdges">
<rect x="3" y="576" width="11" height="7" fill="#ACE5DC"/>
<rect x="15" y="574" width="11" height="9" fill="#22AB94"/>
<rect x="27" y="570" width="10" height="13" fill="#22AB94"/>
<rect x="38" y="572" width="11" height="11" fill="#ACE5DC"/>
<rect x="50" y="572" width="11" height="11" fill="#ACE5DC"/>
<rect x="62" y="572" width="11" height="11" fill="#ACE5DC"/>
<rect x="74" y="568" width="10" height="15" fill="#22AB94"/>
<rect x="85" y="566" width="11" height="17" fill="#22AB94"/>
<rect x="97" y="565" width="11" height="18" fill="#22AB94"/>
<rect x="109" y="560" width="11" height="23" fill="#22AB94"/>
<rect x="121" y="559" width="10" height="24" fill="#22AB94"/>
<rect x="132" y="562" width="11" height="21" fill="#ACE5DC"/>
<rect x="144" y="570" width="11" height="13" fill="#ACE5DC"/>
<rect x="156" y="576" width="11" height="7" fill="#ACE5DC"/>
<rect x="168" y="579" width="10" height="4" fill="#ACE5DC"/>
<rect x="179" y="582" width="11" height="2" fill="#FF5252"/>
<rect x="191" y="582" width="11" height="9" fill="#FF5252"/>
<rect x="203" y="582" width="11" height="10" fill="#FF5252"/>
<rect x="215" y="582" width="10" height="11" fill="#FF5252"/>
<rect x="226" y="582" width="11" height="8" fill="#FCCBCD"/>
<rect x="238" y="582" width="11" height="2" fill="#FCCBCD"/>
<rect x="250" y="580" width="10" height="3" fill="#22AB94"/>
<rect x="261" y="578" width="11" height="5" fill="#22AB94"/>
<rect x="273" y="582" width="11" height="1" fill="#ACE5DC"/>
<rect x="285" y="582" width="11" height="5" fill="#FF5252"/>
<rect x="297" y="582" width="10" height="9" fill="#FF5252"/>
<rect x="308" y="582" width="11" height="6" fill="#FCCBCD"/>
<rect x="320" y="582" width="11" height="4" fill="#FCCBCD"/>
<rect x="332" y="579" width="11" height="4" fill="#22AB94"/>
<rect x="344" y="576" width="10" height="7" fill="#22AB94"/>
<rect x="355" y="577" width="11" height="6" fill="#ACE5DC"/>
<rect x="367" y="577" width="11" height="6" fill="#ACE5DC"/>
<rect x="379" y="572" width="11" height="11" fill="#22AB94"/>
<rect x="391" y="570" width="10" height="13" fill="#22AB94"/>
<rect x="402" y="568" width="11" height="15" fill="#22AB94"/>
<rect x="414" y="569" width="11" height="14" fill="#ACE5DC"/>
<rect x="426" y="573" width="11" height="10" fill="#ACE5DC"/>
<rect x="438" y="573" width="10" height="10" fill="#ACE5DC"/>
<rect x="449" y="574" width="11" height="9" fill="#ACE5DC"/>
<rect x="461" y="574" width="11" height="9" fill="#ACE5DC"/>
<rect x="473" y="578" width="10" height="5" fill="#ACE5DC"/>
<rect x="484" y="579" width="11" height="4" fill="#ACE5DC"/>
<rect x="496" y="582" width="11" height="1" fill="#ACE5DC"/>
<rect x="508" y="582" width="11" height="4" fill="#FF5252"/>
<rect x="520" y="582" width="10" height="6" fill="#FF5252"/>
<rect x="531" y="582" width="11" height="8" fill="#FF5252"/>
<rect x="543" y="582" width="11" height="7" fill="#FCCBCD"/>
<rect x="555" y="582" width="11" height="8" fill="#FF5252"/>
<rect x="567" y="582" width="10" height="8" fill="#FCCBCD"/>
<rect x="578" y="582" width="11" height="7" fill="#FCCBCD"/>
<rect x="590" y="582" width="11" height="7" fill="#FCCBCD"/>
<rect x="602" y="582" width="11" height="1" fill="#FCCBCD"/>
<rect x="614" y="577" width="10" height="6" fill="#22AB94"/>
<rect x="625" y="574" width="11" height="9" fill="#22AB94"/>
<rect x="637" y="574" width="11" height="9" fill="#ACE5DC"/>
<rect x="649" y="576" width="11" height="7" fill="#ACE5DC"/>
<rect x="661" y="575" width="10" height="8" fill="#22AB94"/>
<rect x="672" y="571" width="11" height="12" fill="#22AB94"/>
<rect x="684" y="569" width="11" height="14" fill="#22AB94"/>
<rect x="696" y="566" width="11" height="17" fill="#22AB94"/>
<rect x="708" y="565" width="10" height="18" fill="#22AB94"/>
<rect x="719" y="564" width="11" height="19" fill="#22AB94"/>
<rect x="731" y="567" width="11" height="16" fill="#ACE5DC"/>
<rect x="743" y="572" width="10" height="11" fill="#ACE5DC"/>
<rect x="754" y="574" width="11" height="9" fill="#ACE5DC"/>
<rect x="766" y="576" width="11" height="7" fill="#ACE5DC"/>
<rect x="778" y="579" width="11" height="4" fill="#ACE5DC"/>
<rect x="790" y="582" width="10" height="1" fill="#FF5252"/>
<rect x="801" y="582" width="11" height="5" fill="#FF5252"/>
<rect x="813" y="582" width="11" height="10" fill="#FF5252"/>
<rect x="825" y="582" width="11" height="15" fill="#FF5252"/>
<rect x="837" y="582" width="10" height="15" fill="#FF5252"/>
<rect x="848" y="582" width="11" height="12" fill="#FCCBCD"/>
<rect x="860" y="582" width="11" height="11" fill="#FCCBCD"/>
<rect x="872" y="582" width="11" height="9" fill="#FCCBCD"/>
<rect x="884" y="582" width="10" height="7" fill="#FCCBCD"/>
<rect x="895" y="582" width="11" height="3" fill="#FCCBCD"/>
<rect x="907" y="579" width="11" height="4" fill="#22AB94"/>
<rect x="919" y="577" width="11" height="6" fill="#22AB94"/>
<rect x="931" y="573" width="10" height="10" fill="#22AB94"/>
<rect x="942" y="575" width="11" height="8" fill="#ACE5DC"/>
<rect x="954" y="575" width="11" height="8" fill="#22AB94"/>
<rect x="966" y="575" width="10" height="8" fill="#22AB94"/>
<rect x="977" y="576" width="11" height="7" fill="#ACE5DC"/>
<rect x="989" y="574" width="11" height="9" fill="#22AB94"/>
<rect x="1001" y="572" width="11" height="11" fill="#22AB94"/>
<rect x="1013" y="577" width="10" height="6" fill="#ACE5DC"/>
<rect x="1024" y="582" width="11" height="1" fill="#FF5252"/>
<rect x="1036" y="582" width="11" height="5" fill="#FF5252"/>
<rect x="1048" y="582" width="11" height="7" fill="#FF5252"/>
<rect x="1060" y="582" width="10" height="18" fill="#FF5252"/>
<rect x="1071" y="582" width="11" height="19" fill="#FF5252"/>
<rect x="1083" y="582" width="11" height="22" fill="#FF5252"/>
<rect x="1095" y="582" width="11" height="30" fill="#FF5252"/>
<rect x="1107" y="582" width="10" height="37" fill="#FF5252"/>
<rect x="1118" y="582" width="11" height="42" fill="#FF5252"/>
<rect x="1130" y="582" width="11" height="44" fill="#FF5252"/>
<rect x="1142" y="582" width="11" height="44" fill="#FCCBCD"/>
<rect x="1154" y="582" width="10" height="36" fill="#FCCBCD"/>
<rect x="1165" y="582" width="11" height="27" fill="#FCCBCD"/>
<rect x="1177" y="582" width="11" height="18" fill="#FCCBCD"/>
<rect x="1189" y="582" width="11" height="9" fill="#FCCBCD"/>
<rect x="1201" y="579" width="10" height="4" fill="#22AB94"/>
<rect x="1212" y="582" width="11" height="1" fill="#FF5252"/>
<rect x="1224" y="582" width="11" height="2" fill="#FF5252"/>
<rect x="1236" y="582" width="10" height="1" fill="#FCCBCD"/>
<rect x="1247" y="582" width="11" height="1" fill="#22AB94"/>
<rect x="1259" y="579" width="11" height="4" fill="#22AB94"/>
<rect x="1271" y="580" width="11" height="3" fill="#ACE5DC"/>
<rect x="1283" y="580" width="10" height="3" fill="#22AB94"/>
<rect x="1294" y="579" width="11" height="4" fill="#22AB94"/>
<rect x="1306" y="580" width="11" height="3" fill="#ACE5DC"/>
<rect x="1318" y="581" width="11" height="2" fill="#ACE5DC"/>
<rect x="1330" y="578" width="10" height="5" fill="#22AB94"/>
<rect x="1341" y="573" width="11" height="10" fill="#22AB94"/>
<rect x="1353" y="567" width="11" height="16" fill="#22AB94"/>
<rect x="1365" y="569" width="11" height="14" fill="#ACE5DC"/>
<rect x="1377" y="574" width="10" height="9" fill="#ACE5DC"/>
<rect x="1388" y="577" width="11" height="6" fill="#ACE5DC"/>
<rect x="1400" y="580" width="11" height="3" fill="#ACE5DC"/>
<rect x="1412" y="582" width="11" height="7" fill="#FF5252"/>
<rect x="1424" y="582" width="10" height="11" fill="#FF5252"/>
<rect x="1435" y="582" width="11" height="10" fill="#FCCBCD"/>
<rect x="1447" y="582" width="11" height="10" fill="#FF5252"/>
<rect x="1459" y="582" width="11" height="9" fill="#FCCBCD"/>
</g>
<g clip-path="url(#cpD)" fill="none" stroke-linejoin="round" stroke-linecap="round">
<path d="M8.5 589.9 L20.5 587.6 L32.5 585.1 L43.5 582.7 L55.5 580.4 L67.5 577.9 L79.5 574.5 L90.5 570.9 L102.5 566.7 L114.5 560.7 L126.5 554.8 L137.5 549.9 L149.5 547.3 L161.5 545.8 L173.5 545.2 L184.5 545.2 L196.5 547.3 L208.5 549.6 L220.5 552.2 L231.5 554.0 L243.5 554.2 L255.5 553.6 L266.5 552.8 L278.5 553.3 L290.5 554.5 L302.5 556.3 L313.5 557.5 L325.5 558.4 L337.5 557.5 L349.5 556.0 L360.5 554.8 L372.5 553.7 L384.5 551.3 L396.5 548.1 L407.5 544.6 L419.5 541.3 L431.5 539.1 L443.5 537.2 L454.5 535.1 L466.5 533.4 L478.5 532.4 L489.5 531.6 L501.5 531.3 L513.5 532.3 L525.5 534.1 L536.5 535.6 L548.5 537.2 L560.5 539.2 L572.5 540.8 L583.5 542.3 L595.5 543.8 L607.5 543.8 L619.5 542.8 L630.5 541.0 L642.5 539.0 L654.5 537.5 L666.5 535.6 L677.5 533.1 L689.5 530.1 L701.5 526.0 L713.5 521.9 L724.5 517.4 L736.5 513.2 L748.5 511.1 L759.5 509.2 L771.5 508.0 L783.5 507.2 L795.5 507.4 L806.5 508.7 L818.5 511.4 L830.5 515.1 L842.5 518.6 L853.5 521.4 L865.5 523.7 L877.5 525.9 L889.5 527.1 L900.5 527.5 L912.5 526.6 L924.5 525.6 L936.5 523.4 L947.5 521.6 L959.5 520.1 L971.5 518.0 L982.5 516.5 L994.5 514.7 L1006.5 512.6 L1018.5 511.5 L1029.5 511.7 L1041.5 512.6 L1053.5 514.0 L1065.5 518.3 L1076.5 522.8 L1088.5 528.4 L1100.5 535.9 L1112.5 544.9 L1123.5 555.7 L1135.5 566.5 L1147.5 577.2 L1159.5 585.9 L1170.5 592.0 L1182.5 596.6 L1194.5 598.4 L1206.5 597.9 L1217.5 597.9 L1229.5 598.1 L1241.5 598.2 L1252.5 597.9 L1264.5 597.5 L1276.5 597.1 L1288.5 596.5 L1299.5 595.8 L1311.5 595.3 L1323.5 595.1 L1335.5 594.2 L1346.5 592.2 L1358.5 588.6 L1370.5 585.6 L1382.5 583.4 L1393.5 582.1 L1405.5 581.7 L1417.5 582.9 L1429.5 585.3 L1440.5 587.7 L1452.5 590.0 L1464.5 592.2" stroke="#FF6D00" stroke-width="1.3"/>
<path d="M8.5 583.4 L20.5 581.3 L32.5 573.0 L43.5 571.5 L55.5 569.7 L67.5 567.3 L79.5 559.3 L90.5 554.3 L102.5 549.1 L114.5 538.8 L126.5 532.4 L137.5 529.7 L149.5 535.1 L161.5 540.3 L173.5 543.1 L184.5 547.3 L196.5 555.1 L208.5 558.5 L220.5 562.2 L231.5 561.5 L243.5 555.5 L255.5 551.8 L266.5 549.6 L278.5 553.3 L290.5 559.0 L302.5 564.5 L313.5 563.0 L325.5 561.5 L337.5 554.0 L349.5 550.3 L360.5 550.0 L372.5 549.3 L384.5 541.3 L396.5 535.7 L407.5 530.9 L419.5 528.2 L431.5 530.4 L443.5 529.0 L454.5 527.6 L466.5 525.7 L478.5 528.2 L489.5 528.6 L501.5 531.6 L513.5 535.3 L525.5 539.5 L536.5 542.8 L548.5 543.1 L560.5 546.5 L572.5 548.0 L583.5 548.4 L595.5 549.9 L607.5 543.5 L619.5 537.5 L630.5 533.1 L642.5 531.3 L654.5 532.0 L666.5 529.6 L677.5 522.6 L689.5 517.4 L701.5 509.6 L713.5 504.7 L724.5 499.8 L736.5 498.3 L748.5 501.7 L759.5 501.4 L771.5 502.5 L783.5 505.1 L795.5 508.4 L806.5 512.6 L818.5 520.4 L830.5 528.6 L842.5 532.3 L853.5 532.3 L865.5 534.1 L877.5 534.1 L889.5 533.1 L900.5 530.1 L912.5 523.7 L924.5 520.4 L936.5 514.1 L947.5 514.7 L959.5 513.5 L971.5 511.1 L982.5 511.1 L994.5 507.2 L1006.5 503.1 L1018.5 507.2 L1029.5 512.2 L1041.5 517.1 L1053.5 520.1 L1065.5 535.0 L1076.5 541.7 L1088.5 549.4 L1100.5 565.0 L1112.5 580.8 L1123.5 597.0 L1135.5 608.7 L1147.5 620.0 L1159.5 621.3 L1170.5 618.6 L1182.5 613.2 L1194.5 606.0 L1206.5 595.2 L1217.5 597.5 L1229.5 599.2 L1241.5 598.9 L1252.5 597.5 L1264.5 595.1 L1276.5 595.3 L1288.5 594.6 L1299.5 592.8 L1311.5 593.6 L1323.5 594.2 L1335.5 590.7 L1346.5 583.9 L1358.5 574.5 L1370.5 572.1 L1382.5 574.5 L1393.5 576.4 L1405.5 579.3 L1417.5 587.5 L1429.5 595.6 L1440.5 597.1 L1452.5 599.4 L1464.5 600.6" stroke="#2196F3" stroke-width="1.3"/>
</g>
<text x="1596.9" y="45.95" font-family="Liberation Sans, sans-serif" text-rendering="geometricPrecision" font-size="15.2" fill="#131722" textLength="52.6" lengthAdjust="spacingAndGlyphs">2800.00</text>
<text x="1596.9" y="84.95" font-family="Liberation Sans, sans-serif" text-rendering="geometricPrecision" font-size="15.2" fill="#131722" textLength="52.6" lengthAdjust="spacingAndGlyphs">2700.00</text>
<text x="1596.9" y="123.95" font-family="Liberation Sans, sans-serif" text-rendering="geometricPrecision" font-size="15.2" fill="#131722" textLength="52.6" lengthAdjust="spacingAndGlyphs">2600.00</text>
<text x="1596.9" y="162.75" font-family="Liberation Sans, sans-serif" text-rendering="geometricPrecision" font-size="15.2" fill="#131722" textLength="52.6" lengthAdjust="spacingAndGlyphs">2500.00</text>
<text x="1596.9" y="201.14999999999998" font-family="Liberation Sans, sans-serif" text-rendering="geometricPrecision" font-size="15.2" fill="#131722" textLength="52.6" lengthAdjust="spacingAndGlyphs">2400.00</text>
<text x="1596.9" y="239.64999999999998" font-family="Liberation Sans, sans-serif" text-rendering="geometricPrecision" font-size="15.2" fill="#131722" textLength="52.6" lengthAdjust="spacingAndGlyphs">2300.00</text>
<text x="1596.9" y="278.15" font-family="Liberation Sans, sans-serif" text-rendering="geometricPrecision" font-size="15.2" fill="#131722" textLength="52.6" lengthAdjust="spacingAndGlyphs">2200.00</text>
<text x="1596.9" y="316.65" font-family="Liberation Sans, sans-serif" text-rendering="geometricPrecision" font-size="15.2" fill="#131722" textLength="52.6" lengthAdjust="spacingAndGlyphs">2100.00</text>
<text x="1596.9" y="340.45" font-family="Liberation Sans, sans-serif" text-rendering="geometricPrecision" font-size="15.2" fill="#131722" textLength="36.9" lengthAdjust="spacingAndGlyphs">80.00</text>
<text x="1596.9" y="393.75" font-family="Liberation Sans, sans-serif" text-rendering="geometricPrecision" font-size="15.2" fill="#131722" textLength="36.9" lengthAdjust="spacingAndGlyphs">60.00</text>
<text x="1596.9" y="447.25" font-family="Liberation Sans, sans-serif" text-rendering="geometricPrecision" font-size="15.2" fill="#131722" textLength="36.9" lengthAdjust="spacingAndGlyphs">40.00</text>
<text x="1596.9" y="499.45" font-family="Liberation Sans, sans-serif" text-rendering="geometricPrecision" font-size="15.2" fill="#131722" textLength="36.9" lengthAdjust="spacingAndGlyphs">50.00</text>
<text x="1596.9" y="543.6500000000001" font-family="Liberation Sans, sans-serif" text-rendering="geometricPrecision" font-size="15.2" fill="#131722" textLength="36.9" lengthAdjust="spacingAndGlyphs">25.00</text>
<text x="1596.9" y="587.95" font-family="Liberation Sans, sans-serif" text-rendering="geometricPrecision" font-size="15.2" fill="#131722" textLength="28.5" lengthAdjust="spacingAndGlyphs">0.00</text>
<g clip-path="url(#cpAx)">
<text x="1590" y="631.95" font-family="Liberation Sans, sans-serif" text-rendering="geometricPrecision" font-size="15.2" fill="#131722" textLength="44" lengthAdjust="spacingAndGlyphs">−25.00</text>
</g>
<g><path d="M1587 80H1655a2 2 0 0 1 2 2V99a2 2 0 0 1 -2 2H1587Z" fill="#FF6D00"/>
<text x="1596.9" y="95.95" font-family="Liberation Sans, sans-serif" text-rendering="geometricPrecision" font-size="15.2" fill="#fff" textLength="52.2" lengthAdjust="spacingAndGlyphs">2642.85</text>
</g>
<g><path d="M1587 101H1655a2 2 0 0 1 2 2V120a2 2 0 0 1 -2 2H1587Z" fill="#089981"/>
<text x="1596.9" y="116.95" font-family="Liberation Sans, sans-serif" text-rendering="geometricPrecision" font-size="15.2" fill="#fff" textLength="52.2" lengthAdjust="spacingAndGlyphs">2616.28</text>
</g>
<g><path d="M1587 123H1655a2 2 0 0 1 2 2V142a2 2 0 0 1 -2 2H1587Z" fill="#2196F3"/>
<text x="1596.9" y="138.95" font-family="Liberation Sans, sans-serif" text-rendering="geometricPrecision" font-size="15.2" fill="#fff" textLength="52.2" lengthAdjust="spacingAndGlyphs">2611.83</text>
</g>
<g><path d="M1587 155H1655a2 2 0 0 1 2 2V174a2 2 0 0 1 -2 2H1587Z" fill="#26C6DA"/>
<text x="1596.9" y="170.95" font-family="Liberation Sans, sans-serif" text-rendering="geometricPrecision" font-size="15.2" fill="#131722" textLength="52.2" lengthAdjust="spacingAndGlyphs">2477.00</text>
</g>
<g><path d="M1587 418H1639a2 2 0 0 1 2 2V437a2 2 0 0 1 -2 2H1587Z" fill="#7E57C2"/>
<text x="1596.9" y="433.95" font-family="Liberation Sans, sans-serif" text-rendering="geometricPrecision" font-size="15.2" fill="#fff" textLength="36.3" lengthAdjust="spacingAndGlyphs">45.08</text>
</g>
<g><path d="M1587 580H1639a2 2 0 0 1 2 2V599a2 2 0 0 1 -2 2H1587Z" fill="#FACDD1"/>
<text x="1596.9" y="595.95" font-family="Liberation Sans, sans-serif" text-rendering="geometricPrecision" font-size="15.2" fill="#131722" textLength="36.3" lengthAdjust="spacingAndGlyphs">−4.71</text>
</g>
<g><path d="M1587 601H1639a2 2 0 0 1 2 2V620a2 2 0 0 1 -2 2H1587Z" fill="#FF6D00"/>
<text x="1596.9" y="616.95" font-family="Liberation Sans, sans-serif" text-rendering="geometricPrecision" font-size="15.2" fill="#fff" textLength="36.3" lengthAdjust="spacingAndGlyphs">−5.96</text>
</g>
<g clip-path="url(#cpAx)"><path d="M1587 622.5H1646a2 2 0 0 1 2 2V641.5a2 2 0 0 1 -2 2H1587Z" fill="#2196F3"/>
<text x="1596.9" y="638.45" font-family="Liberation Sans, sans-serif" text-rendering="geometricPrecision" font-size="15.2" fill="#fff" textLength="44" lengthAdjust="spacingAndGlyphs">−10.67</text>
</g>
<text x="23" y="37.8" font-family="Liberation Sans, sans-serif" text-rendering="geometricPrecision" font-size="15.2" fill="#131722" textLength="281.4" lengthAdjust="spacingAndGlyphs">Gold US Dollars per Ounce Spot Prices, 1D</text>
<text x="313.6" y="37.8" font-family="Liberation Sans, sans-serif" text-rendering="geometricPrecision" font-size="15.2" fill="#131722" textLength="9.7" lengthAdjust="spacingAndGlyphs">O</text>
<text x="324" y="37.8" font-family="Liberation Sans, sans-serif" text-rendering="geometricPrecision" font-size="15.2" fill="#089981" textLength="52" lengthAdjust="spacingAndGlyphs">2611.06</text>
<text x="386" y="37.8" font-family="Liberation Sans, sans-serif" text-rendering="geometricPrecision" font-size="15.2" fill="#131722" textLength="9.6" lengthAdjust="spacingAndGlyphs">H</text>
<text x="396.4" y="37.8" font-family="Liberation Sans, sans-serif" text-rendering="geometricPrecision" font-size="15.2" fill="#089981" textLength="51" lengthAdjust="spacingAndGlyphs">2621.59</text>
<text x="457.8" y="37.8" font-family="Liberation Sans, sans-serif" text-rendering="geometricPrecision" font-size="15.2" fill="#131722" textLength="6.9" lengthAdjust="spacingAndGlyphs">L</text>
<text x="465.7" y="37.8" font-family="Liberation Sans, sans-serif" text-rendering="geometricPrecision" font-size="15.2" fill="#089981" textLength="50.7" lengthAdjust="spacingAndGlyphs">2610.19</text>
<text x="527" y="37.8" font-family="Liberation Sans, sans-serif" text-rendering="geometricPrecision" font-size="15.2" fill="#131722" textLength="8.4" lengthAdjust="spacingAndGlyphs">C</text>
<text x="536" y="37.8" font-family="Liberation Sans, sans-serif" text-rendering="geometricPrecision" font-size="15.2" fill="#089981" textLength="51.3" lengthAdjust="spacingAndGlyphs">2616.28</text>
<text x="597.4" y="37.8" font-family="Liberation Sans, sans-serif" text-rendering="geometricPrecision" font-size="15.2" fill="#089981" textLength="98" lengthAdjust="spacingAndGlyphs">+5.24 (+0.20%)</text>
<text x="23" y="59.2" font-family="Liberation Sans, sans-serif" text-rendering="geometricPrecision" font-size="15.2" fill="#131722" textLength="299" lengthAdjust="spacingAndGlyphs">Moving Average Triple (20, 100, 200, Simple)</text>
<text x="332" y="59.2" font-family="Liberation Sans, sans-serif" text-rendering="geometricPrecision" font-size="15.2" fill="#FF6D00" textLength="52" lengthAdjust="spacingAndGlyphs">2642.85</text>
<text x="393.5" y="59.2" font-family="Liberation Sans, sans-serif" text-rendering="geometricPrecision" font-size="15.2" fill="#2196F3" textLength="52" lengthAdjust="spacingAndGlyphs">2611.83</text>
<text x="455.5" y="59.2" font-family="Liberation Sans, sans-serif" text-rendering="geometricPrecision" font-size="15.2" fill="#26C6DA" textLength="52.6" lengthAdjust="spacingAndGlyphs">2477.00</text>
<text x="23" y="351.4" font-family="Liberation Sans, sans-serif" text-rendering="geometricPrecision" font-size="15.2" fill="#131722" textLength="50.5" lengthAdjust="spacingAndGlyphs">RSI (14)</text>
<text x="83.5" y="351.4" font-family="Liberation Sans, sans-serif" text-rendering="geometricPrecision" font-size="15.2" fill="#7E57C2" textLength="36.8" lengthAdjust="spacingAndGlyphs">45.08</text>
<text x="23" y="508.4" font-family="Liberation Sans, sans-serif" text-rendering="geometricPrecision" font-size="15.2" fill="#131722" textLength="156.4" lengthAdjust="spacingAndGlyphs">MACD (12, 26, close, 9)</text>
<text x="189.6" y="508.4" font-family="Liberation Sans, sans-serif" text-rendering="geometricPrecision" font-size="15.2" fill="#FFCDD2" textLength="35.4" lengthAdjust="spacingAndGlyphs">−4.71</text>
<text x="235.6" y="508.4" font-family="Liberation Sans, sans-serif" text-rendering="geometricPrecision" font-size="15.2" fill="#2196F3" textLength="43.6" lengthAdjust="spacingAndGlyphs">−10.67</text>
<text x="289.7" y="508.4" font-family="Liberation Sans, sans-serif" text-rendering="geometricPrecision" font-size="15.2" fill="#FF6D00" textLength="35.5" lengthAdjust="spacingAndGlyphs">−5.96</text>
<text x="82.4" y="662" font-family="Liberation Sans, sans-serif" text-rendering="geometricPrecision" font-size="15.2" fill="#131722" textLength="16.2" lengthAdjust="spacingAndGlyphs">12</text>
<text x="242.6" y="662" font-family="Liberation Sans, sans-serif" text-rendering="geometricPrecision" font-size="15.2" fill="#131722" textLength="25.8" lengthAdjust="spacingAndGlyphs">Aug</text>
<text x="352.4" y="662" font-family="Liberation Sans, sans-serif" text-rendering="geometricPrecision" font-size="15.2" fill="#131722" textLength="16.2" lengthAdjust="spacingAndGlyphs">14</text>
<text x="501.0" y="662" font-family="Liberation Sans, sans-serif" text-rendering="geometricPrecision" font-size="15.2" fill="#131722" textLength="25" lengthAdjust="spacingAndGlyphs">Sep</text>
<text x="611.4" y="662" font-family="Liberation Sans, sans-serif" text-rendering="geometricPrecision" font-size="15.2" fill="#131722" textLength="16.2" lengthAdjust="spacingAndGlyphs">13</text>
<text x="747.35" y="662" font-family="Liberation Sans, sans-serif" text-rendering="geometricPrecision" font-size="15.2" fill="#131722" textLength="24.3" lengthAdjust="spacingAndGlyphs">Oct</text>
<text x="857.4" y="662" font-family="Liberation Sans, sans-serif" text-rendering="geometricPrecision" font-size="15.2" fill="#131722" textLength="16.2" lengthAdjust="spacingAndGlyphs">14</text>
<text x="1016.4" y="662" font-family="Liberation Sans, sans-serif" text-rendering="geometricPrecision" font-size="15.2" fill="#131722" textLength="26.2" lengthAdjust="spacingAndGlyphs">Nov</text>
<text x="1127.4" y="662" font-family="Liberation Sans, sans-serif" text-rendering="geometricPrecision" font-size="15.2" fill="#131722" textLength="16.2" lengthAdjust="spacingAndGlyphs">14</text>
<text x="1263.4" y="662" font-family="Liberation Sans, sans-serif" text-rendering="geometricPrecision" font-size="15.2" fill="#131722" textLength="26.2" lengthAdjust="spacingAndGlyphs">Dec</text>
<text x="1374.4" y="662" font-family="Liberation Sans, sans-serif" text-rendering="geometricPrecision" font-size="15.2" fill="#131722" textLength="16.2" lengthAdjust="spacingAndGlyphs">13</text>
<text x="1540.55" y="662" font-family="Liberation Sans, sans-serif" text-rendering="geometricPrecision" font-size="15.2" fill="#131722" textLength="35.5" lengthAdjust="spacingAndGlyphs" font-weight="bold">2025</text>
<g fill="#131722"><path d="M13 690H22.7V701.8H18V694.5H13Z"/><circle cx="27" cy="692.4" r="2.5"/><path d="M31.9 690H37.2L33 701.8H27Z"/></g>
<text x="42" y="701.8" font-family="Liberation Sans, sans-serif" text-rendering="geometricPrecision" font-size="15.5" fill="#131722" textLength="87.5" lengthAdjust="spacingAndGlyphs">TradingView</text>
</svg></body></html>
